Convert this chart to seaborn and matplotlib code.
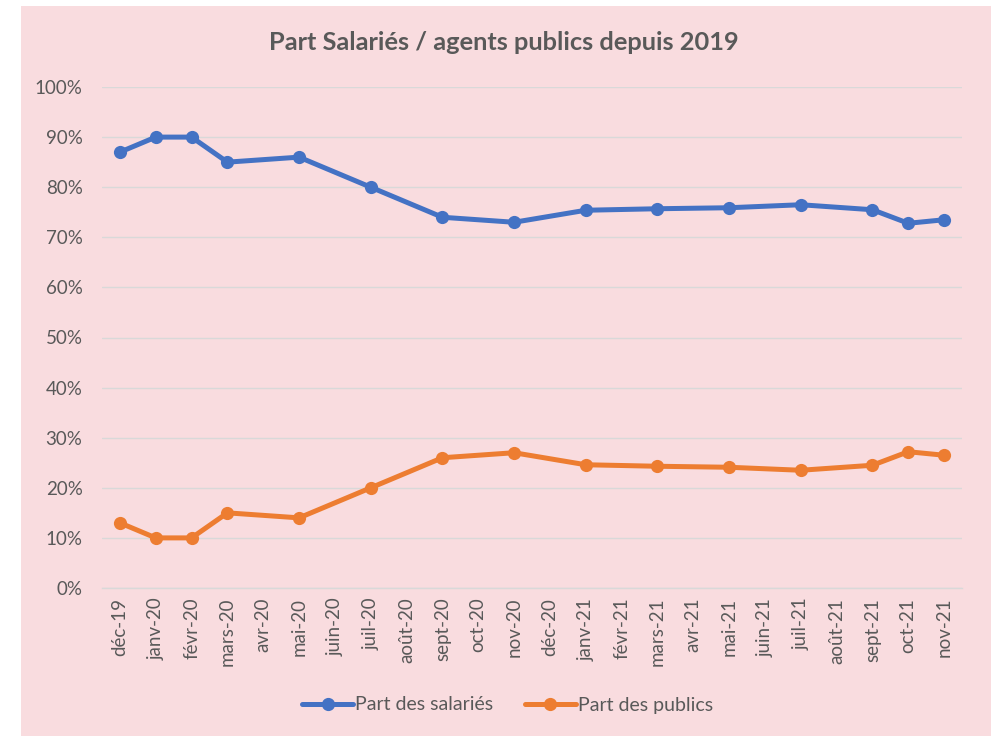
import matplotlib
matplotlib.use("Agg")
import matplotlib.pyplot as plt
from matplotlib.lines import Line2D
from matplotlib.patches import Rectangle
from matplotlib.ticker import FixedLocator, PercentFormatter
import seaborn as sns
import pandas as pd

# ---- data ----
months = ["déc-19", "janv-20", "févr-20", "mars-20", "avr-20", "mai-20", "juin-20",
          "juil-20", "août-20", "sept-20", "oct-20", "nov-20", "déc-20", "janv-21",
          "févr-21", "mars-21", "avr-21", "mai-21", "juin-21", "juil-21", "août-21",
          "sept-21", "oct-21", "nov-21"]
survey_months = ["déc-19", "janv-20", "févr-20", "mars-20", "mai-20", "juil-20",
                 "sept-20", "nov-20", "janv-21", "mars-21", "mai-21", "juil-21",
                 "sept-21", "oct-21", "nov-21"]
part_salaries = [0.87, 0.90, 0.90, 0.85, 0.86, 0.80, 0.74, 0.73, 0.754, 0.757,
                 0.759, 0.765, 0.755, 0.728, 0.735]
part_publics = [0.13, 0.10, 0.10, 0.15, 0.14, 0.20, 0.26, 0.27, 0.246, 0.243,
                0.241, 0.235, 0.245, 0.272, 0.265]
series_names = ["Part des salariés", "Part des publics"]
colors = ["#4472C4", "#ED7D31"]

# ---- frame ----
rows = []
for name, vals in zip(series_names, [part_salaries, part_publics]):
    for m, v in zip(survey_months, vals):
        rows.append({"pos": months.index(m), "val": v, "serie": name})
df = pd.DataFrame(rows)

sns.set_theme(style="white")
plt.rcParams["font.family"] = ["Lato", "DejaVu Sans"]

bg = "#F9DCDF"
fig = plt.figure(figsize=(9.91, 7.36), dpi=100)
fig.patch.set_facecolor("white")
fig.patches.append(Rectangle((21 / 991, 0), 1 - 21 / 991, 1 - 6 / 736,
                             transform=fig.transFigure, facecolor=bg,
                             edgecolor="none", zorder=-10))

ax = fig.add_axes([102 / 991, 1 - 588 / 736, (962 - 102) / 991, (588 - 87) / 736])
ax.set_facecolor(bg)
ax.patch.set_alpha(0)

sns.lineplot(data=df, x="pos", y="val", hue="serie", hue_order=series_names,
             palette=colors, marker="o", markersize=9.5, markeredgewidth=0,
             linewidth=3.6, legend=False, ax=ax, zorder=3)

ax.set_xlim(-0.5, len(months) - 0.5)
ax.set_ylim(0, 1)
ax.yaxis.set_major_locator(FixedLocator([i / 10 for i in range(11)]))
ax.yaxis.set_major_formatter(PercentFormatter(1.0, decimals=0))
ax.grid(axis="y", color="#D9D9D9", linewidth=1.0, zorder=0)
ax.grid(axis="x", visible=False)

ax.set_xticks(range(len(months)))
ax.set_xticklabels(months, rotation=90, ha="center", va="top")
ax.set_xticks([i - 0.5 for i in range(len(months) + 1)], minor=True)
ax.tick_params(axis="x", which="major", length=0, pad=7, labelsize=13.5,
               labelcolor="#595959")
ax.tick_params(axis="x", which="minor", length=5, width=1, color="#D9D9D9",
               direction="out")
ax.tick_params(axis="y", length=0, pad=14, labelsize=13.5, labelcolor="#595959")

for s in ["left", "right", "top"]:
    ax.spines[s].set_visible(False)
ax.spines["bottom"].set_color("#D9D9D9")
ax.spines["bottom"].set_linewidth(1)
ax.set_xlabel("")
ax.set_ylabel("")

fig.text(0.5085, 1 - 42 / 736, "Part Salariés / agents publics depuis 2019",
         ha="center", va="center", fontsize=18.3, fontweight="bold",
         color="#595959")

handles = [Line2D([0], [0], color=c, linewidth=3.6, marker="o", markersize=9.5,
                  markeredgewidth=0) for c in colors]
fig.legend(handles, series_names, loc="center", bbox_to_anchor=(0.5121, 1 - 705 / 736),
           ncol=2, frameon=False, fontsize=14, labelcolor="#595959",
           handlelength=2.6, handletextpad=0.1, columnspacing=1.65)

fig.savefig("out.png", dpi=100, facecolor=fig.get_facecolor())
